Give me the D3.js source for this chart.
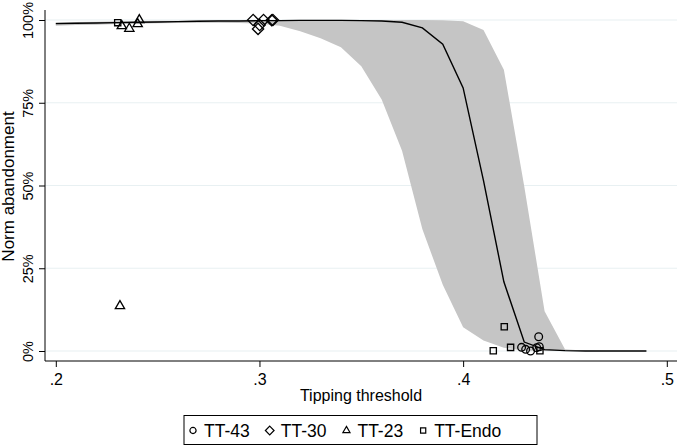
<!DOCTYPE html>
<html>
<head>
<meta charset="utf-8">
<script src="https://cdn.jsdelivr.net/npm/d3@7"></script>
<style>
  html, body { margin: 0; padding: 0; background: #fff; }
  svg { display: block; font-family: "Liberation Sans", Arial, Helvetica, sans-serif; }
</style>
</head>
<body>
<svg id="chart" width="677" height="446"></svg>
<script>
// ---- data ----
const gridX = [0.20,0.21,0.22,0.23,0.24,0.25,0.26,0.27,0.28,0.29,0.30,0.31,0.32,0.33,0.34,0.35,0.36,0.37,0.38,0.39,0.40,0.41,0.42,0.43,0.44,0.45,0.46,0.47,0.48,0.49];
const fitY  = [98.9,99.0,99.1,99.2,99.3,99.4,99.5,99.6,99.7,99.7,99.8,99.8,99.9,99.9,99.9,99.8,99.7,99.3,97.6,92.7,79.5,51.5,20.9,2.7,0.4,0.1,0.0,0.0,0.0,0.0];
const lowY  = [98.3,98.5,98.6,98.8,98.9,99.0,99.1,99.2,99.2,99.1,98.9,98.3,96.6,94.5,91.8,86.0,76.0,60.5,36.8,20.0,7.2,3.2,1.0,0.1,0.0,0.0,0.0,0.0,0.0,0.0];
const highY = [99.3,99.4,99.5,99.6,99.7,99.8,99.8,99.9,99.9,99.9,99.9,100,100,100,100,100,100,100,100,99.9,99.6,97.0,85.0,49.8,12.0,0.5,0.1,0.0,0.0,0.0];

const tt43X = [0.4287,0.4307,0.4331,0.4361,0.4371,0.4374];
const tt43Y = [1.1,0.5,0.0,1.0,4.3,1.3];
const tt30X = [0.2969,0.3001,0.2993,0.3020,0.3066,0.3060];
const tt30Y = [100,98.5,97.3,100,100,99.9];
const tt23X = [0.2324,0.2361,0.2402,0.2410,0.2315];
const tt23Y = [98.2,97.4,98.8,100.0,13.6];
const ttEndoX = [0.2304,0.4148,0.4202,0.4233,0.4377];
const ttEndoY = [99.2,0.1,7.3,1.1,0.1];

const xTicks = [0.2,0.3,0.4,0.5];
const xTickLabels = [".2",".3",".4",".5"];
const yTicks = [0,25,50,75,100];
const yTickLabels = ["0%","25%","50%","75%","100%"];
const seriesNames = ["TT-43","TT-30","TT-23","TT-Endo"];
const xTitle = "Tipping threshold";
const yTitle = "Norm abandonment";

// ---- layout ----
const svg = d3.select("#chart");
const plotLeft = 45, plotRight = 677, plotTop = 10, plotBottom = 361;
const x = d3.scaleLinear().domain([0.2, 0.5]).range([55.8, 666.8]);
const y = d3.scaleLinear().domain([0, 100]).range([351, 20]);

// gridlines
svg.append("g").selectAll("line").data(yTicks).join("line")
  .attr("x1", plotLeft).attr("x2", plotRight)
  .attr("y1", d => y(d)).attr("y2", d => y(d))
  .attr("stroke", "#e8f0f2").attr("stroke-width", 1.2);

// band
const idx = d3.range(gridX.length);
svg.append("path")
  .attr("d", d3.area().x(i => x(gridX[i])).y0(i => y(lowY[i])).y1(i => y(highY[i]))(idx))
  .attr("fill", "#c5c5c5").attr("stroke", "none");

// fit line
svg.append("path")
  .attr("d", d3.line().x(i => x(gridX[i])).y(i => y(fitY[i]))(idx))
  .attr("fill", "none").attr("stroke", "#000").attr("stroke-width", 1.4);

// markers
const symSize = 62;
const symbols = {
  "TT-43": d3.symbol().type(d3.symbolCircle).size(symSize*0.75),
  "TT-30": d3.symbol().type(d3.symbolDiamond2 || d3.symbolDiamond).size(symSize*1.3),
  "TT-23": d3.symbol().type(d3.symbolTriangle2 || d3.symbolTriangle).size(symSize*1.0),
  "TT-Endo": d3.symbol().type(d3.symbolSquare2 || d3.symbolSquare).size(symSize*0.8)
};
const seriesData = [
  {name: "TT-43", xs: tt43X, ys: tt43Y},
  {name: "TT-30", xs: tt30X, ys: tt30Y},
  {name: "TT-23", xs: tt23X, ys: tt23Y},
  {name: "TT-Endo", xs: ttEndoX, ys: ttEndoY}
];
seriesData.forEach(s => {
  svg.append("g").selectAll("path").data(s.xs.map((v, i) => [v, s.ys[i]])).join("path")
    .attr("d", symbols[s.name]())
    .attr("transform", d => `translate(${x(d[0])},${y(d[1])})`)
    .attr("fill", "none").attr("stroke", "#000").attr("stroke-width", 1.3);
});

// axes
const yAxis = d3.axisLeft(y).tickValues(yTicks).tickSize(6)
  .tickFormat((d, i) => yTickLabels[i]);
const gy = svg.append("g").attr("transform", `translate(${plotLeft},0)`).call(yAxis);
gy.select(".domain").attr("d", `M0,${plotTop}V${plotBottom}`).attr("stroke", "#000");
gy.selectAll(".tick line").attr("stroke", "#000");
gy.selectAll(".tick text")
  .attr("x", null).attr("dy", null)
  .attr("transform", "translate(-12,0) rotate(-90)")
  .attr("text-anchor", "middle").attr("font-size", 14.5).attr("fill", "#000");

const xAxis = d3.axisBottom(x).tickValues(xTicks).tickSize(6)
  .tickFormat((d, i) => xTickLabels[i]);
const gx = svg.append("g").attr("transform", `translate(0,${plotBottom})`).call(xAxis);
gx.select(".domain").attr("d", `M${plotLeft},0H${plotRight}`).attr("stroke", "#000");
gx.selectAll(".tick line").attr("stroke", "#000");
gx.selectAll(".tick text").attr("y", 24).attr("dy", null)
  .attr("font-size", 16).attr("fill", "#000");

svg.append("text").attr("x", 361).attr("y", 401).attr("text-anchor", "middle")
  .attr("font-size", 16).text(xTitle);
svg.append("text").attr("transform", `translate(14,${y(50) + 1}) rotate(-90)`)
  .attr("text-anchor", "middle").attr("font-size", 17).text(yTitle);

// legend
const leg = svg.append("g");
leg.append("rect").attr("x", 184).attr("y", 415.5).attr("width", 353).attr("height", 29)
  .attr("fill", "#fff").attr("stroke", "#000").attr("stroke-width", 1);
const legSymbols = {
  "TT-43": d3.symbol().type(d3.symbolCircle).size(30),
  "TT-30": d3.symbol().type(d3.symbolDiamond2 || d3.symbolDiamond).size(48),
  "TT-23": d3.symbol().type(d3.symbolTriangle2 || d3.symbolTriangle).size(36),
  "TT-Endo": d3.symbol().type(d3.symbolSquare2 || d3.symbolSquare).size(34)
};
let cx = 193;
seriesNames.forEach(name => {
  leg.append("path").attr("d", legSymbols[name]())
    .attr("transform", `translate(${cx},430.5)`)
    .attr("fill", "none").attr("stroke", "#000").attr("stroke-width", 1.2);
  const t = leg.append("text").attr("x", cx + 11).attr("y", 437).attr("font-size", 17.5).text(name);
  cx += 11 + t.node().getComputedTextLength() + 20;
});
</script>
</body>
</html>
